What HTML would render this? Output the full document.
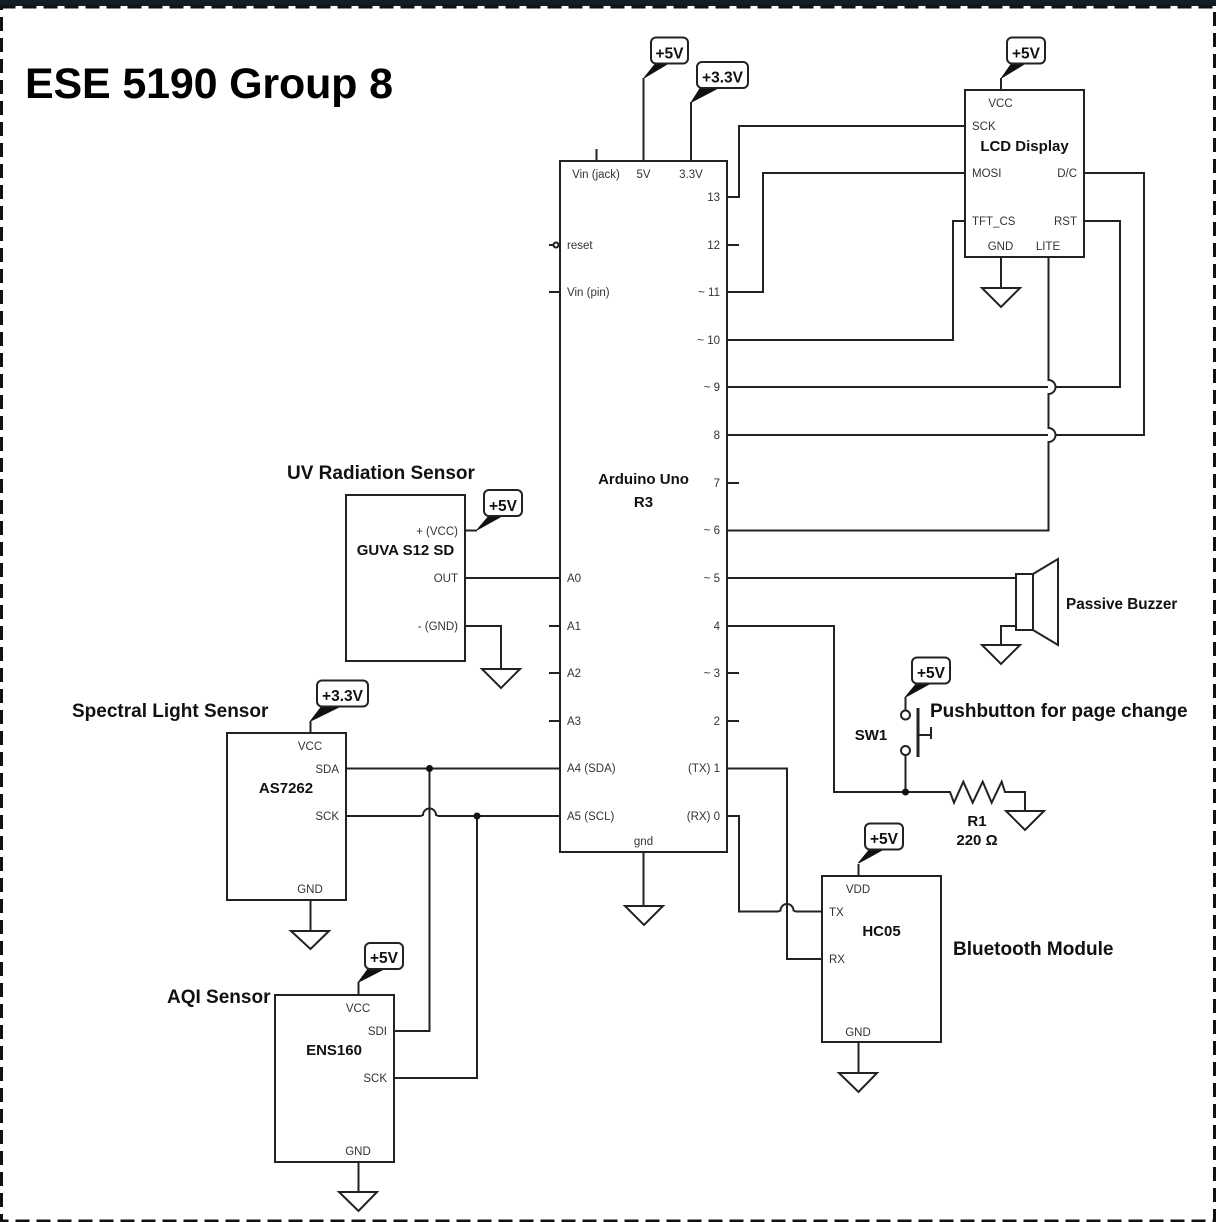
<!DOCTYPE html>
<html><head><meta charset="utf-8">
<style>
html,body{margin:0;padding:0;background:#fff}
svg{display:block;filter:blur(0.35px)}
text{font-family:"Liberation Sans",sans-serif;fill:#333}
.b text,text.b{font-weight:bold;fill:#111}
.p text{font-size:11.5px}
.p .r{text-anchor:end}
.p .m,.b .m{text-anchor:middle}
.w{fill:none;stroke:#222;stroke-width:2}
.c{font-size:15.5px;font-weight:bold;fill:#111;text-anchor:middle}
</style></head><body>
<svg width="1216" height="1222" viewBox="0 0 1216 1222" xmlns="http://www.w3.org/2000/svg">
<rect width="1216" height="1222" fill="#fff"/>
<rect x="0" y="0" width="1216" height="6" fill="#141c26"/>
<rect x="1.500" y="7" width="1213" height="1214" fill="none" stroke="#111" stroke-width="3" stroke-dasharray="14 7"/>
<text x="25" y="98" class="b" style="font-size:43px;fill:#000" textLength="368" lengthAdjust="spacing">ESE 5190 Group 8</text>

<g class="w">
<!-- Arduino -->
<rect x="560" y="161" width="167" height="691"/>
<path d="M596.500 149V161M643.500 78V161M691 102V161"/>
<path d="M549 292H560M549 626H560M549 673H560M549 721H560M549 245H553"/>
<circle cx="556" cy="245" r="2.500"/>
<path d="M727 245H739M727 483H739M727 673H739M727 721H739"/>
<path d="M727 197H739V126H965"/>
<path d="M727 292H763V173H965"/>
<path d="M727 340H953V221H965"/>
<path d="M727 387H1048M1055 387H1120V221H1084"/>
<path d="M727 435H1048M1055 435H1144V173H1084"/>
<path d="M1048.500 257V380A7 7 0 0 1 1048.500 394V428A7 7 0 0 1 1048.500 442V530.500H727"/>
<path d="M727 578H1016"/>
<path d="M727 626H834V792H950L954 802.700L963.300 781.700L972.700 802.700L982.700 781.700L991.700 802.700L1001.700 781.700L1005 792H1025V811"/>
<path d="M643.500 852V906"/>
<path d="M727 768.500H787V959H822"/>
<path d="M727 816H739V911.500H778L780.500 910.500A6.500 6.500 0 0 1 793.500 910.500L796 911.500H822"/>
<!-- LCD -->
<rect x="965" y="90" width="119" height="167"/>
<path d="M1001 78V90M1001 257V288"/>
<!-- GUVA -->
<rect x="346" y="495" width="119" height="166"/>
<path d="M465 530.500H477M465 578H560M465 626H501V669"/>
<!-- AS7262 -->
<rect x="227" y="733" width="119" height="167"/>
<path d="M310.500 721V733M310.500 900V931"/>
<path d="M346 768.500H560"/>
<path d="M346 816H420.500L423 815A6.500 6.500 0 0 1 436 815L438.500 816H560"/>
<!-- ENS160 -->
<rect x="275" y="995" width="119" height="167"/>
<path d="M358.500 982V995M358.500 1162V1192"/>
<path d="M394 1031H429.500V768.500M394 1078H477V816"/>
<!-- HC05 -->
<rect x="822" y="876" width="119" height="166"/>
<path d="M858.500 864V876M858.500 1042V1073"/>
<!-- Buzzer -->
<rect x="1016" y="574" width="17" height="56"/>
<path d="M1033 574L1058 559V645L1033 630"/>
<path d="M1016 626H1001V645"/>
<!-- Switch -->
<circle cx="905.500" cy="715" r="4.500"/>
<circle cx="905.500" cy="750.500" r="4.500"/>
<path d="M905.500 697V710M905.500 755V792M918 735H931M931 727V739"/>
<path d="M918 708V757" stroke-width="3"/>
<!-- Grounds -->
<path d="M982 288H1020L1001 307Z"/>
<path d="M482 669H520L501 688Z"/>
<path d="M625 906H663L644 925Z"/>
<path d="M291 931H329L310.500 949Z"/>
<path d="M339 1192H377L358.500 1211Z"/>
<path d="M839 1073H877L858.500 1092Z"/>
<path d="M982 645H1020L1001 664Z"/>
<path d="M1006 811H1044L1025 830Z"/>
</g>
<circle cx="429.500" cy="768.500" r="3.500" fill="#111"/>
<circle cx="477" cy="816" r="3.500" fill="#111"/>
<circle cx="905.500" cy="792" r="3.500" fill="#111"/>

<!-- Callouts -->
<g fill="#111" stroke="#111" stroke-width="1">
<path d="M644 78L656 63H669Z"/>
<path d="M691.500 102L701 87H720Z"/>
<path d="M1001.500 78L1012 63H1026Z"/>
<path d="M477 530L489 516H502Z"/>
<path d="M310.500 721L322 706H341Z"/>
<path d="M358.500 982L368 969H384Z"/>
<path d="M858.500 863L870 849H884Z"/>
<path d="M905.500 697L917 683H931Z"/>
</g>
<g fill="#fff" stroke="#222" stroke-width="2">
<rect x="651" y="37.500" width="37" height="26" rx="5"/>
<rect x="697" y="62" width="51" height="26" rx="5"/>
<rect x="1007" y="37.500" width="38" height="26" rx="5"/>
<rect x="484" y="490" width="38" height="26" rx="5"/>
<rect x="317" y="680.500" width="51" height="26" rx="5"/>
<rect x="365" y="943" width="38" height="26" rx="5"/>
<rect x="865" y="823.500" width="38" height="26" rx="5"/>
<rect x="912" y="657.500" width="38" height="26" rx="5"/>
</g>
<text x="669.500" y="58.500" class="c">+5V</text>
<text x="722.500" y="82.500" class="c">+3.3V</text>
<text x="1026" y="58.500" class="c">+5V</text>
<text x="503" y="511" class="c">+5V</text>
<text x="342.500" y="701" class="c">+3.3V</text>
<text x="384" y="963" class="c">+5V</text>
<text x="884" y="844" class="c">+5V</text>
<text x="931" y="678" class="c">+5V</text>

<!-- Arduino labels -->
<g class="p">
<text x="596" y="178" class="m">Vin (jack)</text>
<text x="643.500" y="178" class="m">5V</text>
<text x="691" y="178" class="m">3.3V</text>
<text x="567" y="249">reset</text>
<text x="567" y="296">Vin (pin)</text>
<text x="567" y="582">A0</text>
<text x="567" y="630">A1</text>
<text x="567" y="677">A2</text>
<text x="567" y="725">A3</text>
<text x="567" y="772">A4 (SDA)</text>
<text x="567" y="820">A5 (SCL)</text>
<text x="720" y="201" class="r">13</text>
<text x="720" y="249" class="r">12</text>
<text x="720" y="296" class="r">~ 11</text>
<text x="720" y="344" class="r">~ 10</text>
<text x="720" y="391" class="r">~ 9</text>
<text x="720" y="439" class="r">8</text>
<text x="720" y="487" class="r">7</text>
<text x="720" y="534" class="r">~ 6</text>
<text x="720" y="582" class="r">~ 5</text>
<text x="720" y="630" class="r">4</text>
<text x="720" y="677" class="r">~ 3</text>
<text x="720" y="725" class="r">2</text>
<text x="720" y="772" class="r">(TX) 1</text>
<text x="720" y="820" class="r">(RX) 0</text>
<text x="643.500" y="845" class="m">gnd</text>
<!-- LCD -->
<text x="1000.500" y="107" class="m">VCC</text>
<text x="972" y="130">SCK</text>
<text x="972" y="177">MOSI</text>
<text x="972" y="225">TFT_CS</text>
<text x="1077" y="177" class="r">D/C</text>
<text x="1077" y="225" class="r">RST</text>
<text x="1000.500" y="250" class="m">GND</text>
<text x="1048" y="250" class="m">LITE</text>
<!-- GUVA -->
<text x="458" y="535" class="r">+ (VCC)</text>
<text x="458" y="582" class="r">OUT</text>
<text x="458" y="630" class="r">- (GND)</text>
<!-- AS7262 -->
<text x="310" y="750" class="m">VCC</text>
<text x="339" y="773" class="r">SDA</text>
<text x="339" y="820" class="r">SCK</text>
<text x="310" y="893" class="m">GND</text>
<!-- ENS160 -->
<text x="358" y="1012" class="m">VCC</text>
<text x="387" y="1035" class="r">SDI</text>
<text x="387" y="1082" class="r">SCK</text>
<text x="358" y="1155" class="m">GND</text>
<!-- HC05 -->
<text x="858" y="893" class="m">VDD</text>
<text x="829" y="916">TX</text>
<text x="829" y="963">RX</text>
<text x="858" y="1036" class="m">GND</text>
</g>

<!-- Bold labels -->
<g class="b">
<g style="font-size:15px">
<text x="643.500" y="484" class="m">Arduino Uno</text>
<text x="643.500" y="507" class="m">R3</text>
<text x="1024.500" y="151" class="m">LCD Display</text>
<text x="405.500" y="555" class="m">GUVA S12 SD</text>
<text x="286" y="793" class="m">AS7262</text>
<text x="334" y="1055" class="m">ENS160</text>
<text x="881.500" y="936" class="m">HC05</text>
<text x="1066" y="609" style="font-size:15.300px">Passive Buzzer</text>
<text x="871" y="740" class="m">SW1</text>
<text x="977" y="826" class="m">R1</text>
<text x="977" y="845" class="m">220 Ω</text>
</g>
<g style="font-size:19px">
<text x="287" y="479">UV Radiation Sensor</text>
<text x="72" y="717">Spectral Light Sensor</text>
<text x="167" y="1003">AQI Sensor</text>
<text x="953" y="955">Bluetooth Module</text>
<text x="930" y="717">Pushbutton for page change</text>
</g>
</g>
</svg>
</body></html>
